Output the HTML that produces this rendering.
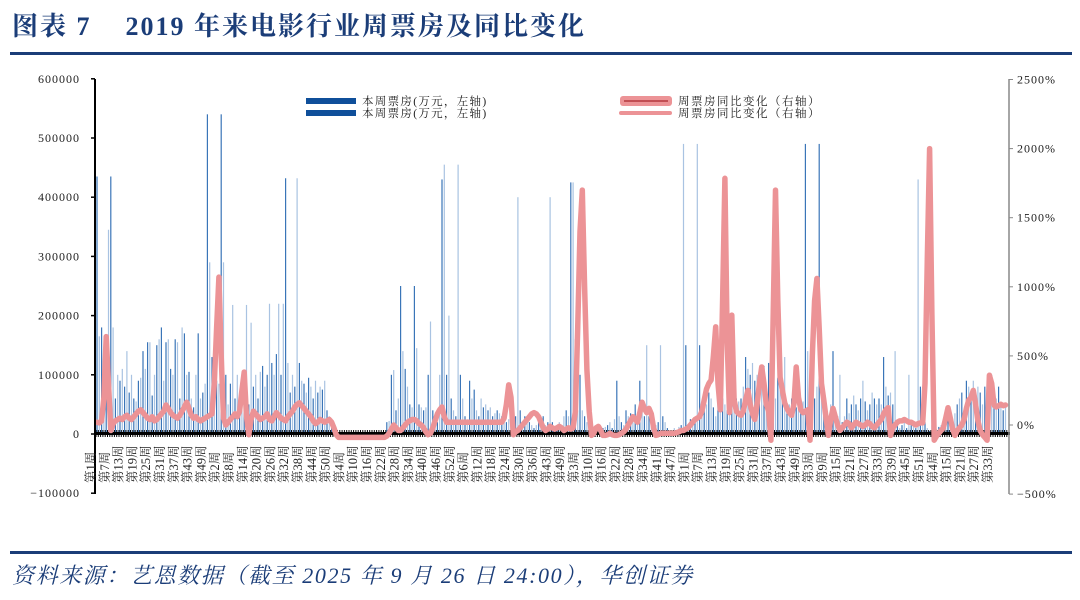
<!DOCTYPE html>
<html><head><meta charset="utf-8">
<style>
html,body{margin:0;padding:0;background:#fff;}
body{width:1080px;height:600px;position:relative;overflow:hidden;font-family:"Liberation Serif","Noto Serif CJK SC",serif;}
#title{position:absolute;left:12px;top:6px;font-size:26px;letter-spacing:2px;font-weight:bold;color:#1b3d78;font-family:"Liberation Serif","Noto Serif CJK SC",serif;white-space:nowrap;}
#src{position:absolute;left:12px;top:559px;font-size:22px;letter-spacing:1.6px;font-style:italic;color:#1b3d78;font-family:"Liberation Serif","Noto Serif CJK SC",serif;white-space:nowrap;}
.rule{position:absolute;left:10px;width:1062px;height:3px;background:#1b3d78;}
svg{position:absolute;left:0;top:0;}
</style></head><body>
<div id="title">图表 7&nbsp;&nbsp;&nbsp;&nbsp;2019 年来电影行业周票房及同比变化</div>
<div class="rule" style="top:52px"></div>
<div class="rule" style="top:551px"></div>
<div id="src">资料来源：艺恩数据（截至 2025 年 9 月 26 日 24:00），华创证券</div>
<svg id="chart" width="1080" height="600"></svg>
<script>
const weekLabels=["第1周","第7周","第13周","第19周","第25周","第31周","第37周","第43周","第49周","第2周","第8周","第14周","第20周","第26周","第32周","第38周","第44周","第50周","第4周","第10周","第16周","第22周","第28周","第34周","第40周","第46周","第52周","第6周","第12周","第18周","第24周","第30周","第36周","第43周","第49周","第3周","第10周","第16周","第22周","第28周","第34周","第41周","第47周","第1周","第7周","第13周","第19周","第25周","第31周","第37周","第43周","第49周","第3周","第9周","第15周","第21周","第27周","第33周","第39周","第45周","第51周","第4周","第15周","第21周","第27周","第33周"];
const leftTicks=[600000,500000,400000,300000,200000,100000,0,-100000];
const rightTicks=[2500,2000,1500,1000,500,0,-500];
const boxOffice=[
435000,165000,180000,100000,90000,345000,435000,180000,60000,100000,
90000,110000,80000,140000,70000,100000,60000,55000,90000,95000,
140000,110000,155000,155000,65000,100000,150000,160000,180000,90000,
155000,160000,110000,100000,160000,155000,60000,180000,170000,100000,
105000,60000,45000,100000,170000,60000,70000,85000,540000,290000,
130000,135000,90000,85000,540000,290000,100000,50000,85000,218000,
60000,100000,50000,90000,60000,218000,50000,188000,80000,100000,
60000,105000,115000,80000,100000,220000,120000,100000,135000,220000,
100000,220000,432000,120000,70000,100000,80000,432000,120000,90000,
85000,70000,95000,80000,60000,90000,70000,80000,75000,90000,
40000,30000,20000,0,0,0,0,0,0,0,
0,0,0,0,0,0,0,0,0,0,
0,0,0,0,0,0,20000,22000,100000,108000,
40000,60000,250000,140000,110000,80000,50000,45000,250000,145000,
50000,45000,40000,45000,100000,190000,40000,30000,20000,100000,
430000,455000,100000,200000,60000,40000,30000,455000,100000,60000,
30000,25000,90000,60000,75000,40000,30000,60000,45000,50000,
40000,45000,30000,35000,40000,35000,30000,40000,20000,25000,
30000,20000,30000,400000,40000,20000,30000,25000,20000,15000,
10000,15000,20000,25000,30000,15000,20000,400000,20000,10000,
15000,20000,12000,30000,40000,30000,425000,425000,160000,40000,
100000,40000,30000,20000,20000,10000,5000,8000,10000,10000,
10000,12000,15000,20000,10000,25000,90000,30000,20000,15000,
40000,30000,35000,20000,50000,20000,90000,40000,30000,150000,
30000,20000,10000,15000,20000,150000,30000,20000,10000,5000,
5000,10000,5000,12000,15000,490000,150000,15000,25000,20000,
25000,490000,150000,30000,40000,50000,70000,60000,45000,30000,
55000,40000,60000,50000,40000,60000,50000,45000,60000,55000,
60000,80000,130000,110000,100000,120000,90000,100000,85000,110000,
115000,80000,120000,90000,70000,60000,95000,80000,60000,130000,
40000,50000,60000,70000,45000,50000,40000,55000,490000,140000,
70000,30000,60000,80000,490000,100000,60000,40000,30000,50000,
140000,40000,30000,100000,20000,30000,60000,35000,50000,65000,
50000,40000,60000,90000,55000,40000,50000,70000,60000,50000,
60000,50000,130000,80000,65000,70000,50000,140000,20000,10000,
15000,20000,10000,100000,15000,20000,10000,430000,80000,30000,
20000,10000,5000,15000,10000,8000,12000,15000,20000,10000,
30000,40000,20000,35000,50000,60000,70000,40000,90000,80000,
70000,90000,60000,80000,70000,50000,80000,90000,60000,100000,
70000,60000,80000,50000,40000,45000];
const yoyPct=[
20,15,30,200,640,300,-40,10,30,40,
50,40,60,70,50,40,60,80,100,110,
90,70,50,40,60,30,40,60,80,100,
145,120,90,70,60,50,70,100,130,165,
120,70,50,60,40,30,40,50,60,70,
80,300,700,1070,500,50,0,20,40,60,
80,60,100,250,383,60,-70,40,100,80,
60,40,50,60,80,40,30,60,90,70,
50,40,30,60,80,100,130,150,160,140,
120,100,80,60,30,10,20,40,30,20,
30,40,20,-20,-70,-90,-90,-90,-90,-90,
-90,-90,-90,-90,-90,-90,-90,-90,-90,-90,
-90,-90,-90,-90,-90,-90,-80,-60,-30,0,
-20,-40,-40,-20,0,20,30,40,40,30,
10,0,-20,-50,-70,-60,-20,30,80,110,
130,60,20,20,20,20,20,20,20,20,
20,20,20,20,20,20,20,20,20,20,
20,20,20,20,20,20,20,50,150,290,
200,-70,-50,-40,-20,0,20,40,60,80,
90,80,60,20,-20,-40,-30,-10,-20,-30,
-20,-10,-20,-40,-30,-20,-30,-20,100,700,
1400,1700,1000,400,100,-75,-60,-20,-10,-40,
-75,-75,-70,-60,-70,-75,-75,-70,-60,-50,
-30,0,30,60,40,20,90,165,120,90,
120,80,-20,-75,-70,-60,-60,-60,-60,-60,
-60,-60,-55,-50,-40,-40,-30,-20,0,20,
40,50,60,100,180,260,300,325,500,710,
300,110,900,1785,600,90,795,180,100,80,
70,100,180,250,150,80,40,150,300,420,
300,150,100,-110,800,1700,900,345,250,160,
120,90,70,150,420,200,110,90,100,110,
-110,500,900,1060,700,300,180,50,-75,40,
120,60,0,-40,-20,0,20,10,-20,0,
20,10,0,-10,0,20,10,-10,-20,0,
20,40,80,110,125,-75,-20,0,20,30,
30,40,30,20,20,10,0,10,15,15,
300,1200,2000,800,-110,-80,-60,-40,-20,50,
125,50,-30,-75,-40,-20,0,40,120,180,
200,250,150,30,-40,-70,-90,-110,360,300,
145,130,140,150,140,145];

const NS="http://www.w3.org/2000/svg";
const svg=document.getElementById('chart');
function mk(tag,attrs,parent){const e=document.createElementNS(NS,tag);for(const k in attrs)e.setAttribute(k,attrs[k]);(parent||svg).appendChild(e);return e;}
const X0=96,STEP=2.3;
const N=weekLabels.length*6;
function xAt(i){return X0+i*STEP+1;}
function yL(v){return 434-(v/100000)*59.2;}
function yR(p){return 425-(p/500)*69.1;}
const FONT='Liberation Serif, Noto Serif CJK SC, serif';

const gBars=mk('g',{});


for(let i=0;i<boxOffice.length&&i<N;i++){
  const v=boxOffice[i];if(v<=0)continue;
  const r=mk('rect',{x:xAt(i)-0.6,y:yL(v),width:1.2,height:yL(0)-yL(v),fill:(i%2?'#a9c3e2':'#3a75b8')},gBars);
  
  
}
const ax=mk('line',{x1:X0,y1:433.5,x2:1010,y2:433.5,stroke:'#000','stroke-width':3});


let tp='';for(let i=0;i<=N;i++){const x=X0+i*STEP;tp+='M'+x+' 430V437';}
mk('path',{d:tp,stroke:'#000','stroke-width':1});
let d='';
yoyPct.forEach((p,i)=>{d+=(i?'L':'M')+xAt(i).toFixed(1)+' '+yR(p).toFixed(1);});
const ln=mk('path',{d:d,fill:'none',stroke:'#ec9396','stroke-width':5.5,'stroke-linejoin':'round','stroke-linecap':'round'});


const la=mk('line',{x1:95,y1:79,x2:95,y2:494,stroke:'#000','stroke-width':2});


leftTicks.forEach(v=>{
  mk('line',{x1:91,y1:yL(v),x2:95,y2:yL(v),stroke:'#000','stroke-width':1.5});
  const t=mk('text',{x:80,y:yL(v)+4,'text-anchor':'end','font-size':12,'letter-spacing':1,fill:'#222','font-family':FONT});
  t.textContent=(v<0?'−':'')+Math.abs(v);
  
  
});
const ra=mk('line',{x1:1009,y1:79,x2:1009,y2:494,stroke:'#888','stroke-width':1.5});


rightTicks.forEach(p=>{
  mk('line',{x1:1009,y1:yR(p),x2:1013,y2:yR(p),stroke:'#888','stroke-width':1});
  const t=mk('text',{x:1017,y:yR(p)+4,'font-size':12,'letter-spacing':1,fill:'#222','font-family':FONT});
  t.textContent=(p<0?'−':'')+Math.abs(p)+'%';
  
  
});
weekLabels.forEach((lab,k)=>{
  const x=X0+k*6*STEP+4;
  const t=mk('text',{x:0,y:0,'font-size':12.5,fill:'#222','font-family':FONT,'text-anchor':'start'});
  t.setAttribute('transform','translate('+(x-5)+',483) rotate(-90)');
  t.textContent=lab;
  
  
});
const lg=mk('g',{});


[101,113].forEach(y=>{
  mk('rect',{x:306,y:y-3,width:50,height:6,fill:'#0f4f9a'},lg);
  const t=mk('text',{x:362,y:y+4,'font-size':11.5,'letter-spacing':1.3,fill:'#222','font-family':FONT},lg);
  t.textContent='本周票房(万元，左轴)';
  
  
});
mk('rect',{x:620,y:96,width:52,height:10,rx:3,fill:'#ec9396'},lg);
mk('line',{x1:624,y1:101,x2:668,y2:101,stroke:'#b3393e','stroke-width':1.5},lg);
mk('line',{x1:621,y1:113,x2:670,y2:113,stroke:'#ec9396','stroke-width':4,'stroke-linecap':'round'},lg);
[101,113].forEach(y=>{
  const t=mk('text',{x:678,y:y+4,'font-size':11.5,'letter-spacing':1.5,fill:'#222','font-family':FONT},lg);
  t.textContent='周票房同比变化（右轴）';
  
  
});
</script>
</body></html>
